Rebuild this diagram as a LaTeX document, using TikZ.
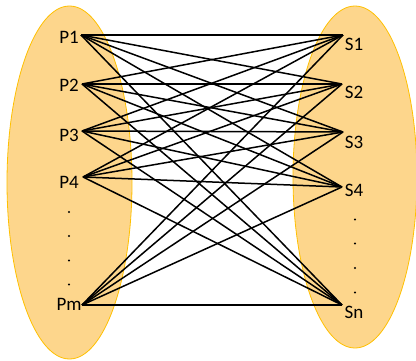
\documentclass[tikz,border=0pt]{standalone}
\usepackage{fontspec}
\setmainfont{Carlito}
\definecolor{setfill}{RGB}{253,214,140}
\definecolor{setedge}{RGB}{255,192,0}
\tikzset{
  setshape/.style={ellipse, fill=setfill, draw=setedge, line width=0.8pt},
  lbl/.style={inner sep=0pt, font=\fontsize{19}{23}\selectfont},
  link/.style={black, line width=1.5pt},
  dotmark/.style={circle, fill=black, inner sep=0pt, minimum size=2.4pt}
}
\usetikzlibrary{shapes.geometric}
\begin{document}
\begin{tikzpicture}[x=1pt,y=-1pt]
\useasboundingbox (0,0) rectangle (416,360);
% sets
\path[setshape] (69.5,182.5) ellipse [x radius=62.5, y radius=176.5];
\path[setshape] (355,177) ellipse [x radius=62, y radius=171];
% labels
\node[lbl] (p1) at (69,37) {P1};
\node[lbl] (p2) at (69,85) {P2};
\node[lbl] (p3) at (69,135) {P3};
\node[lbl] (p4) at (69,182) {P4};
\node[lbl] (pm) at (69,304) {Pm};
\node[lbl] (s1) at (354,44) {S1};
\node[lbl] (s2) at (354,92) {S2};
\node[lbl] (s3) at (354,142) {S3};
\node[lbl] (s4) at (354,190) {S4};
\node[lbl] (sn) at (354,312) {Sn};
% dots
\foreach \y [count=\i] in {212,236,260.5,284.5} \node[dotmark] (ld\i) at (69,\y) {};
\foreach \y [count=\i] in {219.5,243.5,268,292.5} \node[dotmark] (rd\i) at (355,\y) {};
% connection points
\coordinate (a1) at (81,35);
\coordinate (a2) at (82,84);
\coordinate (a3) at (82,131);
\coordinate (a4) at (83,177);
\coordinate (a5) at (82,305);
\coordinate (b1) at (343,35);
\coordinate (b2) at (342,84);
\coordinate (b3) at (343,132);
\coordinate (b4) at (342,187);
\coordinate (b5) at (342,305);
\foreach \i in {1,...,5}
  \foreach \j in {1,...,5}
    \draw[link] (a\i) -- (b\j);
\end{tikzpicture}
\end{document}
